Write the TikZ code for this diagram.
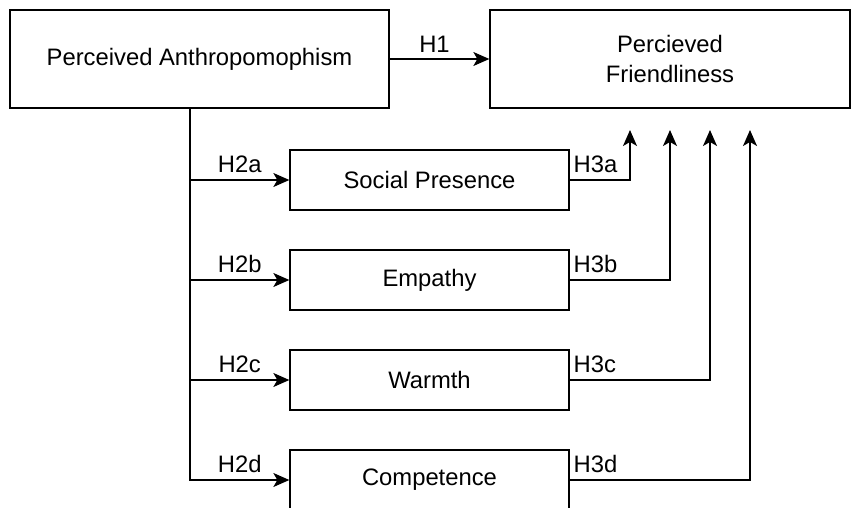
\documentclass[tikz,border=0pt]{standalone}
\usepackage{fontspec}
\setmainfont{Liberation Sans}
\usetikzlibrary{arrows.meta}

\begin{document}
\begin{tikzpicture}[x=1pt,y=-1pt, line width=1.3pt,
  every node/.style={font=\fontsize{23.8}{30}\selectfont}]
\tikzset{bigbox/.style={draw,minimum width=379pt,minimum height=98pt,align=center},
  medbox/.style={draw,minimum width=279pt,minimum height=60pt},
  hlabel/.style={above,yshift=3pt},
  hlabelr/.style={above right,yshift=3pt},
  arr/.style={-{Stealth[length=16pt,width=14pt,inset=4pt]}}}
\useasboundingbox (0,0) rectangle (859,508);

\node[bigbox] (pa) at (199.5,59) {Perceived Anthropomophism};
\node[bigbox,minimum width=360pt] (pf) at (670,59) {Percieved\\Friendliness};
\draw[arr] (pa) -- (pf) node[hlabel,pos=0.45]{H1};

\node[medbox] (sp) at (429.5,180) {Social Presence};
\node[medbox] (em) at (429.5,280) {Empathy};
\node[medbox] (wa) at (429.5,380) {Warmth};
\node[medbox] (co) at (429.5,480) {Competence};

% hypotheses H2
\coordinate (trunk) at (190,108);
\draw[arr] (trunk) |- (sp.west) node[hlabel,pos=0.75]{H2a};
\draw[arr] (trunk) |- (em.west) node[hlabel,pos=0.75]{H2b};
\draw[arr] (trunk) |- (wa.west) node[hlabel,pos=0.75]{H2c};
\draw[arr] (trunk) |- (co.west) node[hlabel,pos=0.75]{H2d};

% hypotheses H3
\coordinate (ta) at (630,130);
\coordinate (tb) at (670,130);
\coordinate (tc) at (710,130);
\coordinate (td) at (750,130);
\draw[arr] (sp.east) -| (ta);
\draw[arr] (em.east) -| (tb);
\draw[arr] (wa.east) -| (tc);
\draw[arr] (co.east) -| (td);
\node[hlabelr] at (sp.east) {H3a};
\node[hlabelr] at (em.east) {H3b};
\node[hlabelr] at (wa.east) {H3c};
\node[hlabelr] at (co.east) {H3d};
\end{tikzpicture}
\end{document}
